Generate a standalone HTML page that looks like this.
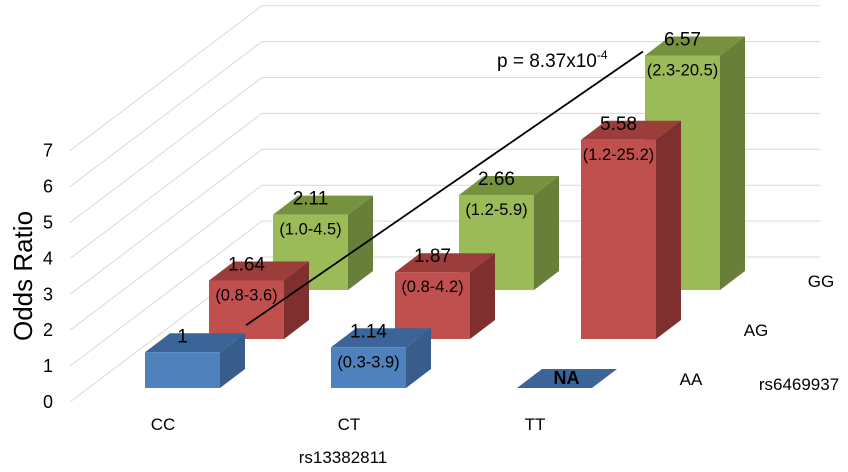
<!DOCTYPE html>
<html><head><meta charset="utf-8"><style>
html,body{margin:0;padding:0;background:#fff;}
svg{display:block;font-family:"Liberation Sans",Arial,sans-serif;}
</style></head><body>
<svg id="chart" width="848" height="472" viewBox="0 0 848 472" xmlns="http://www.w3.org/2000/svg">
<g id="grid"></g>
<g id="yaxis"></g>
<g id="bars"></g>
<g id="labels"></g>
<text x="0" y="0" transform="translate(32,276) rotate(-90)" text-anchor="middle" font-size="26" fill="#000">Odds Ratio</text>
<text x="343" y="463" text-anchor="middle" font-size="17">rs13382811</text>
<text x="799" y="390" text-anchor="middle" font-size="17">rs6469937</text>
<text x="497" y="67" font-size="19">p = 8.37x10<tspan dy="-8" font-size="12">-4</tspan></text>
</svg>
<script>
const categories = ["CC","CT","TT"];
const series = ["AA","AG","GG"];
const valuesAA = [1, 1.14, 0];
const valuesAG = [1.64, 1.87, 5.58];
const valuesGG = [2.11, 2.66, 6.57];
const ciAA = ["", "(0.3-3.9)", ""];
const ciAG = ["(0.8-3.6)", "(0.8-4.2)", "(1.2-25.2)"];
const ciGG = ["(1.0-4.5)", "(1.2-5.9)", "(2.3-20.5)"];
const naAA = [false, false, true];
const yTicks = [0,1,2,3,4,5,6,7];

const NS = "http://www.w3.org/2000/svg";
const UNIT = 35.7;
const colX0 = 145, colStep = 186, barW = 75;
const rowBaseY = 388, rowDx = 64, rowDy = -49;
const dX = 25, dY = -19;
const colors = [
  {front:"#4F81BD", top:"#3B6498", side:"#385D8A"},
  {front:"#C0504D", top:"#9A3D3B", side:"#7F302E"},
  {front:"#9BBB59", top:"#77923F", side:"#677F38"}
];
const allVals = [valuesAA, valuesAG, valuesGG];
const allCI = [ciAA, ciAG, ciGG];
function yScale(v){ return v*UNIT; }
function mk(tag, attrs, parent){ const e=document.createElementNS(NS,tag); for(const k in attrs) e.setAttribute(k,attrs[k]); parent.appendChild(e); return e; }

const grid = document.getElementById("grid");
const yaxis = document.getElementById("yaxis");
yTicks.forEach(t=>{
  const y0 = 402 - t*35.9;
  const gl = mk("polyline",{points:`70,${y0} 262,${y0-145} 820,${y0-145}`,fill:"none",stroke:"#d9d9d9","stroke-width":1},grid);
  
  
  const tl = mk("text",{x:48,y:y0+6,"text-anchor":"middle","font-size":18},yaxis);
  tl.textContent = t;
  
  
});

const bars = document.getElementById("bars");
const labels = document.getElementById("labels");
const tops = [];
for(let r=series.length-1;r>=0;r--){
  for(let c=0;c<categories.length;c++){
    const v = allVals[r][c];
    const x = colX0 + c*colStep + r*rowDx;
    const yb = rowBaseY + r*rowDy;
    const h = yScale(v);
    const yt = yb - h;
    const col = colors[r];
    const g = mk("g",{},bars);
    
    
    if(r===0 && naAA[c]){
      mk("polygon",{points:`${x},${yb} ${x+barW},${yb} ${x+barW+dX},${yb+dY} ${x+dX},${yb+dY}`,fill:col.top},g);
      const na = mk("text",{x:x+barW/2+12,y:yb-4,"text-anchor":"middle","font-size":18,"font-weight":"bold"},labels);
      na.textContent="NA";
      
      
      continue;
    }
    mk("rect",{x:x,y:yt,width:barW,height:h,fill:col.front},g);
    mk("polygon",{points:`${x},${yt} ${x+barW},${yt} ${x+barW+dX},${yt+dY} ${x+dX},${yt+dY}`,fill:col.top},g);
    mk("polygon",{points:`${x+barW},${yt} ${x+barW+dX},${yt+dY} ${x+barW+dX},${yb+dY} ${x+barW},${yb}`,fill:col.side},g);
    tops.push({r,c,x,yt});
    const vl = mk("text",{x:x+barW/2,y:yt-10,"text-anchor":"middle","font-size":19},labels);
    vl.textContent = v;
    
    
    if(allCI[r][c]){
      const cl = mk("text",{x:x+barW/2,y:yt+20,"text-anchor":"middle","font-size":16.5},labels);
      cl.textContent = allCI[r][c];
      
      
    }
  }
}
const a = tops.find(t=>t.r===0&&t.c===0), b = tops.find(t=>t.r===2&&t.c===2);
const tl = mk("line",{x1:a.x+barW+26,y1:a.yt-27,x2:b.x-2,y2:b.yt-4,stroke:"#000","stroke-width":1.8},labels);



categories.forEach((c,i)=>{
  const t = mk("text",{x:163+i*colStep,y:430,"text-anchor":"middle","font-size":17},labels);
  t.textContent=c;
  
  
});
series.forEach((s,i)=>{
  const t = mk("text",{x:691+i*65,y:385+i*rowDy,"text-anchor":"middle","font-size":17},labels);
  t.textContent=s;
  
  
});
</script>
</body></html>
